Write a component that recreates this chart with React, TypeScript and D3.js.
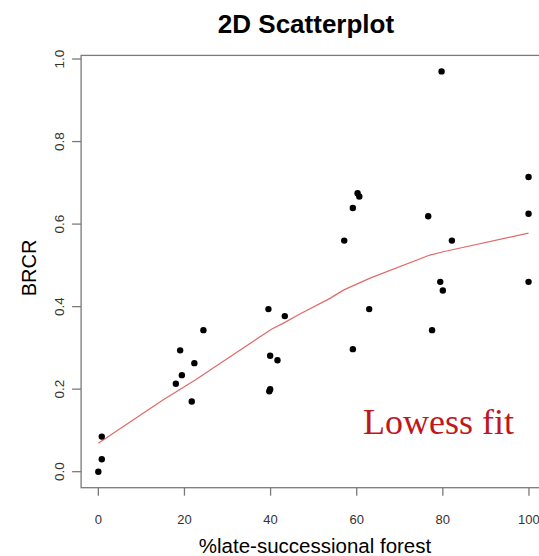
import React from "react";
import * as d3 from "d3";

const forestPct = [0, 0.8, 0.8, 18, 21.7, 39.9, 39.7, 39.5, 43.3, 24.4, 19, 22.3, 19.4, 39.9, 41.6, 79.7, 99.9, 60.2, 60.6, 59.1, 76.6, 99.9, 57.1, 82.1, 79.4, 80, 99.9, 62.9, 77.5, 59.1];
const brcr = [0, 0.03, 0.085, 0.213, 0.17, 0.2, 0.195, 0.394, 0.377, 0.343, 0.294, 0.263, 0.234, 0.281, 0.27, 0.97, 0.714, 0.675, 0.667, 0.639, 0.619, 0.625, 0.56, 0.56, 0.46, 0.439, 0.46, 0.394, 0.343, 0.297];

const lowessX = [0, 15, 22.5, 40.3, 43, 46.8, 53.8, 56.9, 63.1, 77, 80.1, 99.9];
const lowessY = [0.069, 0.174, 0.222, 0.346, 0.36, 0.382, 0.42, 0.44, 0.469, 0.525, 0.533, 0.578];

const xTicks = [0, 20, 40, 60, 80, 100];
const yTicks = [0, 0.2, 0.4, 0.6, 0.8, 1.0];

const W = 539;
const H = 556;

export default function App() {
  const x = d3.scaleLinear().domain([-4, 104]).range([81.1, 546.2]);
  const y = d3.scaleLinear().domain([-0.0388, 1.0088]).range([487.7, 55.4]);
  const [x0, x1] = x.range();
  const [yb, yt] = y.range();
  const line = d3
    .line<number>()
    .x((_, i) => x(lowessX[i]))
    .y((d) => y(d));
  const sans = "'Liberation Sans', Arial, sans-serif";
  const axisCol = "#7a7a7a";
  return (
    <svg width={W} height={H} style={{ position: "absolute", left: 0, top: 0, background: "#fff" }}>
      <text x={306} y={33} textAnchor="middle" fontFamily={sans} fontWeight="bold" fontSize={26} fill="#000">
        2D Scatterplot
      </text>
      <rect x={x0} y={yt} width={x1 - x0} height={yb - yt} fill="none" stroke={axisCol} strokeWidth={1.3} />
      {xTicks.map((t) => (
        <g key={"x" + t}>
          <line x1={x(t)} x2={x(t)} y1={yb} y2={yb + 8} stroke={axisCol} strokeWidth={1.3} />
          <text x={x(t)} y={524} textAnchor="middle" fontFamily={sans} fontSize={13} fill="#333">
            {t}
          </text>
        </g>
      ))}
      {yTicks.map((t) => (
        <g key={"y" + t}>
          <line x1={x0 - 9} x2={x0} y1={y(t)} y2={y(t)} stroke={axisCol} strokeWidth={1.3} />
          <text
            transform={`translate(64,${y(t)}) rotate(-90)`}
            textAnchor="middle"
            fontFamily={sans}
            fontSize={13.5}
            fill="#333"
          >
            {t.toFixed(1)}
          </text>
        </g>
      ))}
      <text x={315} y={553} textAnchor="middle" fontFamily={sans} fontSize={20.5} fill="#000">
        %late-successional forest
      </text>
      <text
        transform={`translate(36,268) rotate(-90)`}
        textAnchor="middle"
        fontFamily={sans}
        fontSize={20}
        fill="#000"
      >
        BRCR
      </text>
      <path d={line(lowessY) || ""} fill="none" stroke="#e06a6a" strokeWidth={1.2} />
      {forestPct.map((v, i) => (
        <circle key={"p" + i} cx={x(v)} cy={y(brcr[i])} r={3.2} fill="#000" />
      ))}
      <text x={363} y={434} fontFamily="'Liberation Serif', 'DejaVu Serif', serif" fontSize={36} fill="#c0171b">
        Lowess fit
      </text>
    </svg>
  );
}
